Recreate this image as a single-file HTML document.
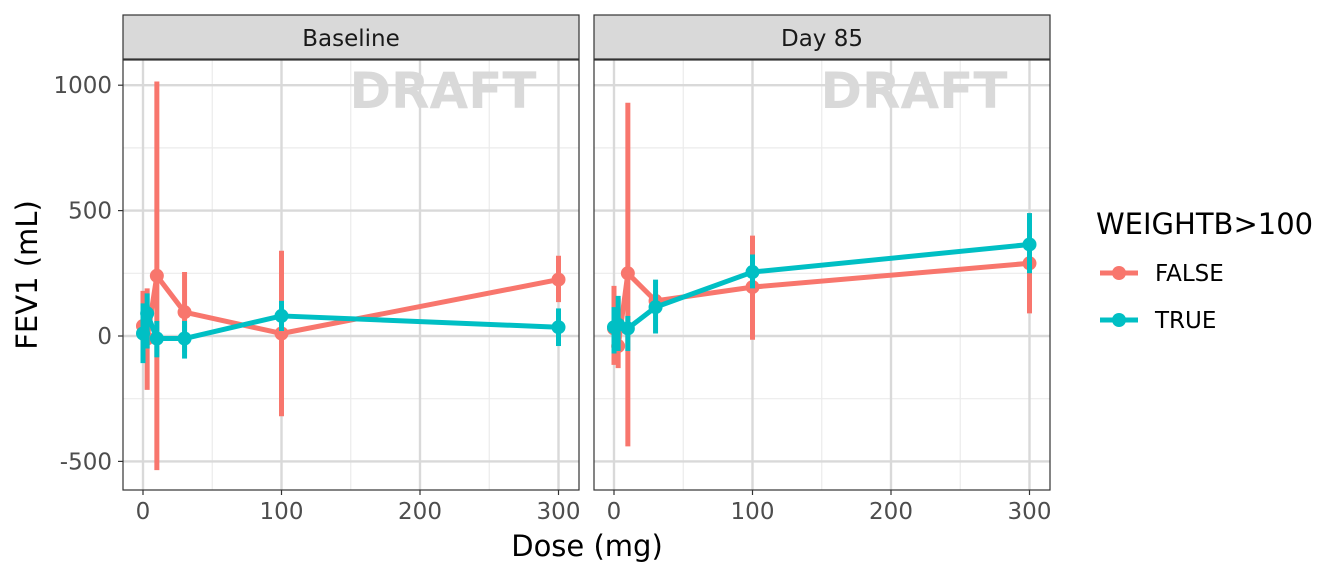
<!DOCTYPE html>
<html><head><meta charset="utf-8"><style>
body{margin:0;background:#fff;}
svg text{font-family:"DejaVu Sans","Liberation Sans",sans-serif;}
</style></head><body>
<svg id="chart" width="1344" height="576" xmlns="http://www.w3.org/2000/svg"></svg>
<script>
const doses = [0, 3, 10, 30, 100, 300];
const panels = ["Baseline", "Day 85"];
const groups = ["FALSE", "TRUE"];
const baseFalseMean = [40, -10, 240, 95, 10, 225];
const baseFalseLo = [-100, -215, -535, -65, -320, 135];
const baseFalseHi = [180, 190, 1015, 255, 340, 320];
const baseTrueMean = [10, 90, -10, -10, 80, 35];
const baseTrueLo = [-108, -50, -85, -90, 20, -40];
const baseTrueHi = [130, 170, 60, 60, 140, 110];
const d85FalseMean = [30, -40, 250, 140, 195, 290];
const d85FalseLo = [-115, -128, -440, 100, -15, 90];
const d85FalseHi = [200, 150, 930, 180, 400, 490];
const d85TrueMean = [35, 45, 30, 115, 255, 365];
const d85TrueLo = [-70, -60, -60, 10, 190, 250];
const d85TrueHi = [115, 160, 80, 225, 325, 490];
const yTicks = [-500, 0, 500, 1000];
const xTicks = [0, 100, 200, 300];
const colors = {FALSE: "#F8766D", TRUE: "#00BFC4"};

const svg = document.getElementById("chart");
const NS = "http://www.w3.org/2000/svg";
function mk(tag, attrs, parent) {
  const e = document.createElementNS(NS, tag);
  for (const k in attrs) e.setAttribute(k, attrs[k]);
  (parent || svg).appendChild(e);
  return e;
}
const panelX = [123, 594], pw = 456, pTop = 60, pBot = 490;
const yScale = v => 336 - v * 0.2508;
const xScaleFor = p => v => panelX[p] + 20 + v * (415.5 / 300);
const data = [
  {FALSE: [baseFalseMean, baseFalseLo, baseFalseHi], TRUE: [baseTrueMean, baseTrueLo, baseTrueHi]},
  {FALSE: [d85FalseMean, d85FalseLo, d85FalseHi], TRUE: [d85TrueMean, d85TrueLo, d85TrueHi]}
];

panels.forEach((name, p) => {
  const x0 = panelX[p], xs = xScaleFor(p);
  const g = mk("g", {});
  
  
  mk("rect", {x: x0, y: pTop, width: pw, height: pBot - pTop, fill: "#fff"}, g);
  [50, 150, 250].forEach(v => mk("line", {x1: xs(v), x2: xs(v), y1: pTop, y2: pBot, stroke: "#ebebeb", "stroke-width": 1.2}, g));
  [-250, 250, 750].forEach(v => mk("line", {x1: x0, x2: x0 + pw, y1: yScale(v), y2: yScale(v), stroke: "#ebebeb", "stroke-width": 1.2}, g));
  xTicks.forEach(v => mk("line", {x1: xs(v), x2: xs(v), y1: pTop, y2: pBot, stroke: "#d9d9d9", "stroke-width": 2.4}, g));
  yTicks.forEach(v => mk("line", {x1: x0, x2: x0 + pw, y1: yScale(v), y2: yScale(v), stroke: "#d9d9d9", "stroke-width": 2.4}, g));
  const wm = mk("text", {x: x0 + 320, y: 108, "font-size": 50, "font-weight": "bold", fill: "#d9d9d9", "text-anchor": "middle"}, g);
  wm.textContent = "DRAFT";
  
  
  groups.forEach(gr => {
    const [m, lo, hi] = data[p][gr];
    const c = colors[gr];
    const pl = mk("polyline", {points: doses.map((d, i) => xs(d) + "," + yScale(m[i])).join(" "), fill: "none", stroke: c, "stroke-width": 5, "stroke-linejoin": "round"}, g);
    
    
    doses.forEach((d, i) => {
      const l = mk("line", {x1: xs(d), x2: xs(d), y1: yScale(lo[i]), y2: yScale(hi[i]), stroke: c, "stroke-width": 5}, g);
      
      
      const pt = mk("circle", {cx: xs(d), cy: yScale(m[i]), r: 7, fill: c}, g);
      
      
    });
  });
  mk("rect", {x: x0, y: pTop, width: pw, height: pBot - pTop, fill: "none", stroke: "#333", "stroke-width": 1.2}, g);
  const st = mk("rect", {x: x0, y: 15, width: pw, height: 44, fill: "#d9d9d9", stroke: "#333", "stroke-width": 1.2}, g);
  
  
  const stt = mk("text", {x: x0 + pw / 2, y: 46, "font-size": 23, fill: "#1a1a1a", "text-anchor": "middle"}, g);
  stt.textContent = name;
  
  
  xTicks.forEach(v => {
    mk("line", {x1: xs(v), x2: xs(v), y1: pBot, y2: pBot + 5, stroke: "#333", "stroke-width": 1.2}, g);
    const t = mk("text", {x: xs(v), y: pBot + 29, "font-size": 23, fill: "#4d4d4d", "text-anchor": "middle"}, g);
    t.textContent = v;
    
    
  });
});
yTicks.forEach(v => {
  mk("line", {x1: 118, x2: 123, y1: yScale(v), y2: yScale(v), stroke: "#333", "stroke-width": 1.2});
  const t = mk("text", {x: 112, y: yScale(v) + 8, "font-size": 23, fill: "#4d4d4d", "text-anchor": "end"});
  t.textContent = v;
  
  
});
const xt = mk("text", {x: 587, y: 556, "font-size": 29, fill: "#000", "text-anchor": "middle"});
xt.textContent = "Dose (mg)";


const yt = mk("text", {x: 0, y: 0, "font-size": 29, fill: "#000", "text-anchor": "middle", transform: "translate(37,275) rotate(-90)"});
yt.textContent = "FEV1 (mL)";


const lt = mk("text", {x: 1096, y: 234, "font-size": 29, fill: "#000"});
lt.textContent = "WEIGHTB>100";


groups.forEach((gr, i) => {
  const y = 273 + i * 47;
  const lg = mk("g", {});
  
  
  mk("line", {x1: 1100, x2: 1138, y1: y, y2: y, stroke: colors[gr], "stroke-width": 5}, lg);
  mk("circle", {cx: 1119, cy: y, r: 7, fill: colors[gr]}, lg);
  const t = mk("text", {x: 1155, y: y + 8, "font-size": 23, fill: "#000"}, lg);
  t.textContent = gr;
});
</script>
</body></html>
